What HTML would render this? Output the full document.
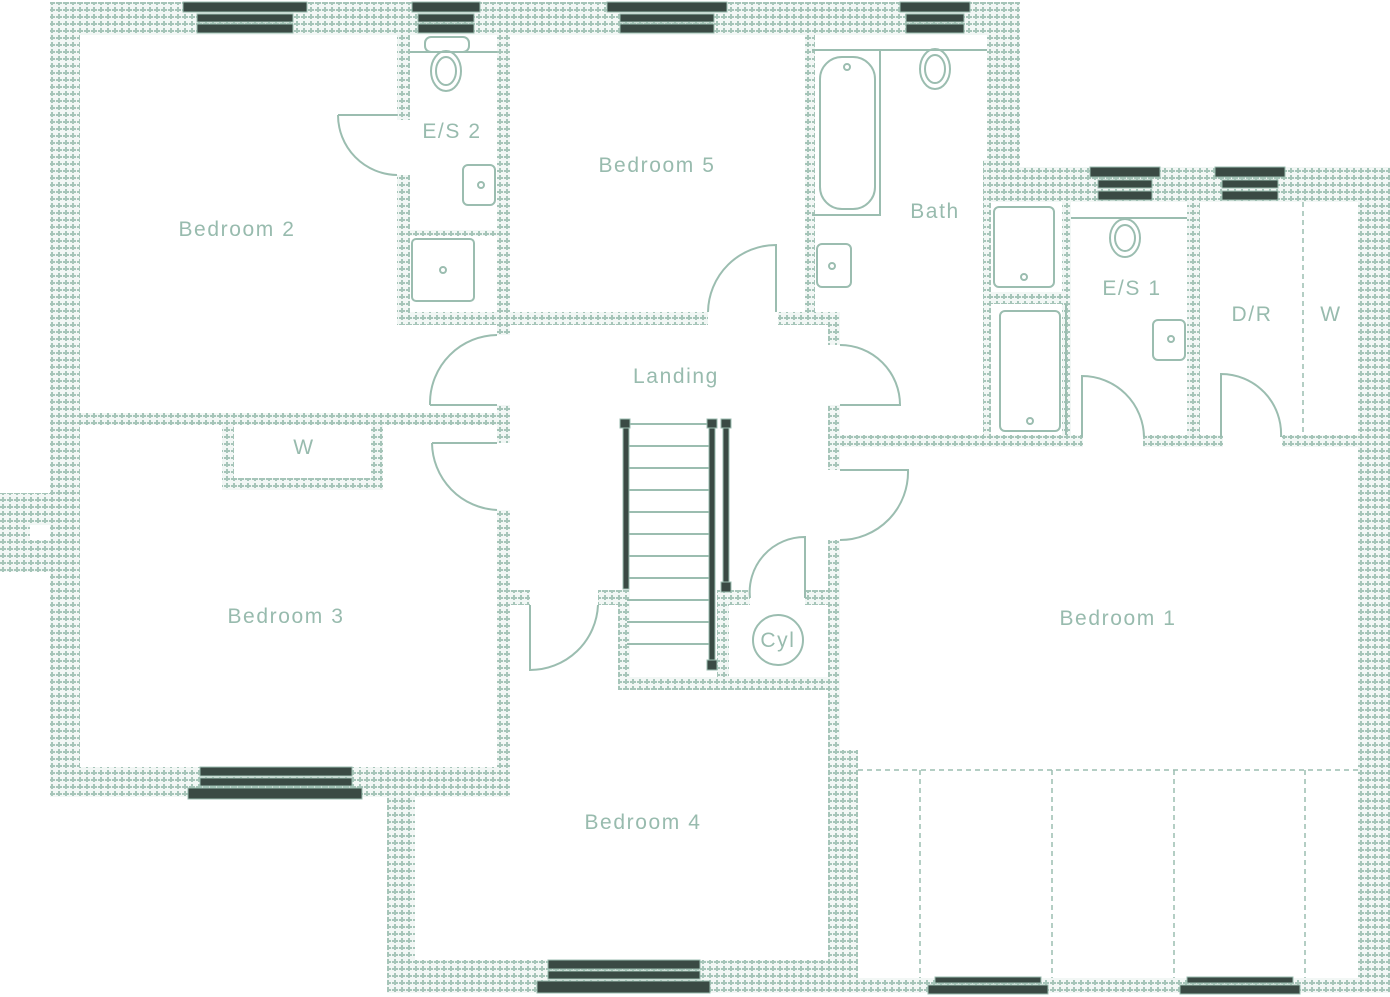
<!DOCTYPE html>
<html><head><meta charset="utf-8"><style>
html,body{margin:0;padding:0;background:#fff;}
svg{display:block;}
text{font-family:"Liberation Sans",sans-serif;fill:#98bbae;font-size:21px;letter-spacing:1.6px;text-anchor:middle;}
</style></head><body>
<svg width="1390" height="997" viewBox="0 0 1390 997" xmlns="http://www.w3.org/2000/svg">
<defs>
<pattern id="p" width="7" height="7" patternUnits="userSpaceOnUse">
<rect width="7" height="7" fill="#f2f7f5"/>
<rect x="2" y="0" width="2" height="5" fill="#a6c5b9"/>
<rect x="0" y="2" width="6" height="2" fill="#a6c5b9"/>
</pattern>
</defs>
<g fill="url(#p)">
<rect x="50" y="2" width="970" height="33"/>
<rect x="50" y="2" width="30" height="795"/>
<rect x="50" y="767" width="460" height="30"/>
<rect x="0" y="493" width="52" height="79"/>
<rect x="987" y="2" width="33" height="200"/>
<rect x="987" y="167" width="403" height="35"/>
<rect x="1358" y="167" width="32" height="826"/>
<rect x="387" y="780" width="28" height="213"/>
<rect x="387" y="960" width="471" height="33"/>
<rect x="828" y="978" width="562" height="15"/>
<rect x="828" y="750" width="30" height="243"/>
<rect x="397" y="35" width="13" height="85"/>
<rect x="397" y="175" width="13" height="150"/>
<rect x="497" y="35" width="13" height="290"/>
<rect x="400" y="230" width="100" height="6"/>
<rect x="397" y="312" width="311" height="13"/>
<rect x="778" y="312" width="62" height="13"/>
<rect x="805" y="35" width="10" height="280"/>
<rect x="80" y="413" width="430" height="12"/>
<rect x="497" y="312" width="13" height="23"/>
<rect x="497" y="405" width="13" height="38"/>
<rect x="497" y="510" width="13" height="267"/>
<rect x="222" y="413" width="12" height="77"/>
<rect x="371" y="413" width="12" height="77"/>
<rect x="222" y="478" width="161" height="12"/>
<rect x="828" y="312" width="12" height="33"/>
<rect x="828" y="405" width="12" height="65"/>
<rect x="828" y="540" width="12" height="215"/>
<rect x="510" y="590" width="20" height="15"/>
<rect x="598" y="590" width="32" height="15"/>
<rect x="618" y="590" width="12" height="100"/>
<rect x="618" y="677" width="222" height="13"/>
<rect x="717" y="590" width="33" height="15"/>
<rect x="805" y="590" width="35" height="15"/>
<rect x="717" y="590" width="12" height="95"/>
<rect x="983" y="160" width="8" height="285"/>
<rect x="983" y="292" width="87" height="12"/>
<rect x="1062" y="200" width="9" height="245"/>
<rect x="1187" y="200" width="13" height="245"/>
<rect x="840" y="435" width="243" height="12"/>
<rect x="1143" y="435" width="80" height="12"/>
<rect x="1282" y="435" width="76" height="12"/>
</g>
<rect x="30" y="525" width="20" height="15" fill="#fff"/>
<g fill="#3a4a44" stroke="#9bbdb0" stroke-width="1">
<rect x="183" y="2" width="124" height="10"/><rect x="197" y="14" width="96" height="8"/><rect x="197" y="24" width="96" height="9"/>
<rect x="412" y="2" width="68" height="10"/><rect x="418" y="14" width="56" height="8"/><rect x="418" y="24" width="56" height="9"/>
<rect x="607" y="2" width="120" height="10"/><rect x="620" y="14" width="94" height="8"/><rect x="620" y="24" width="94" height="9"/>
<rect x="900" y="2" width="70" height="10"/><rect x="906" y="14" width="58" height="8"/><rect x="906" y="24" width="58" height="9"/>
<rect x="1090" y="167" width="70" height="10"/><rect x="1098" y="180" width="54" height="8"/><rect x="1098" y="191" width="54" height="9"/>
<rect x="1215" y="167" width="70" height="10"/><rect x="1222" y="180" width="56" height="8"/><rect x="1222" y="191" width="56" height="9"/>
<rect x="200" y="767" width="152" height="9"/><rect x="200" y="778" width="152" height="8"/><rect x="188" y="788" width="174" height="11"/>
<rect x="548" y="960" width="152" height="9"/><rect x="548" y="971" width="152" height="8"/><rect x="537" y="981" width="173" height="12"/>
<rect x="935" y="977" width="106" height="6"/><rect x="928" y="985" width="120" height="9"/>
<rect x="1187" y="977" width="106" height="6"/><rect x="1180" y="985" width="120" height="9"/>
</g>
<g fill="none" stroke="#9bbdb0" stroke-width="2">
<path d="M410 52H497"/><rect x="425" y="37" width="44" height="15" rx="6"/>
<ellipse cx="446" cy="71" rx="15" ry="20"/><ellipse cx="446" cy="71" rx="10" ry="14"/>
<rect x="463" y="165" width="32" height="40" rx="5"/><circle cx="481" cy="185" r="3"/>
<rect x="412" y="239" width="62" height="62" rx="4"/><circle cx="443" cy="270" r="3"/>
<path d="M338 115H397M338 115A60 60 0 0 0 397 175"/>
<path d="M812 50H987"/><path d="M812 215H880V50"/>
<rect x="820" y="57" width="55" height="152" rx="22"/><circle cx="847" cy="67" r="3"/>
<ellipse cx="935" cy="69" rx="15" ry="20"/><ellipse cx="935" cy="69" rx="10" ry="14"/>
<rect x="817" y="244" width="34" height="43" rx="5"/><circle cx="832" cy="266" r="3"/>
<path d="M776 312V245A68 68 0 0 0 708 312"/>
<path d="M430 405V402A68 68 0 0 1 497 335M430 405H497"/>
<path d="M432 443H497M432 443A68 68 0 0 0 497 510"/>
<path d="M840 345A60 60 0 0 1 900 405H840"/>
<path d="M840 470H908A68 68 0 0 1 840 540"/>
<path d="M530 605V670A68 68 0 0 0 598 605"/>
<path d="M750 598A55 55 0 0 1 805 537V598"/>
<circle cx="778" cy="640" r="25"/>
<rect x="994" y="207" width="60" height="80" rx="5"/><circle cx="1024" cy="277" r="3"/>
<rect x="1000" y="311" width="60" height="120" rx="5"/><circle cx="1030" cy="421" r="3"/>
<path d="M1066 304V435"/>
<path d="M1071 218H1187"/>
<ellipse cx="1125" cy="238" rx="15" ry="19"/><ellipse cx="1125" cy="238" rx="10" ry="13"/>
<rect x="1153" y="320" width="32" height="40" rx="5"/><circle cx="1171" cy="339" r="3"/>
<path d="M1082 437V376A62 62 0 0 1 1144 437"/>
<path d="M1221 437V374A60 60 0 0 1 1281 437"/>
</g>
<g fill="none" stroke="#9bbdb0" stroke-width="1.5" stroke-dasharray="5,4">
<path d="M1303 202V435"/>
<path d="M858 770H1358M920 770V978M1052 770V978M1174 770V978M1305 770V978"/>
</g>
<g stroke="#9bbdb0" stroke-width="2">
<path d="M627 424H713M627 446H713M627 468H713M627 490H713M627 512H713M627 534H713M627 556H713M627 578H713M627 600H713M627 622H713M627 644H713"/>
</g>
<g fill="#3a4a44" stroke="#9bbdb0" stroke-width="1">
<rect x="623" y="424" width="6" height="165"/>
<rect x="709" y="424" width="6" height="240"/>
<rect x="723" y="424" width="6" height="165"/>
<rect x="620" y="419" width="10" height="9"/><rect x="707" y="419" width="10" height="9"/><rect x="721" y="419" width="10" height="9"/>
<rect x="721" y="582" width="10" height="10"/><rect x="707" y="660" width="10" height="10"/>
</g>
<text x="237" y="236">Bedroom 2</text>
<text x="452" y="138">E/S 2</text>
<text x="657" y="172">Bedroom 5</text>
<text x="935" y="218">Bath</text>
<text x="676" y="383">Landing</text>
<text x="304" y="454">W</text>
<text x="286" y="623">Bedroom 3</text>
<text x="778" y="647">Cyl</text>
<text x="643" y="829">Bedroom 4</text>
<text x="1118" y="625">Bedroom 1</text>
<text x="1132" y="295">E/S 1</text>
<text x="1252" y="321">D/R</text>
<text x="1331" y="321">W</text>
</svg>
</body></html>
